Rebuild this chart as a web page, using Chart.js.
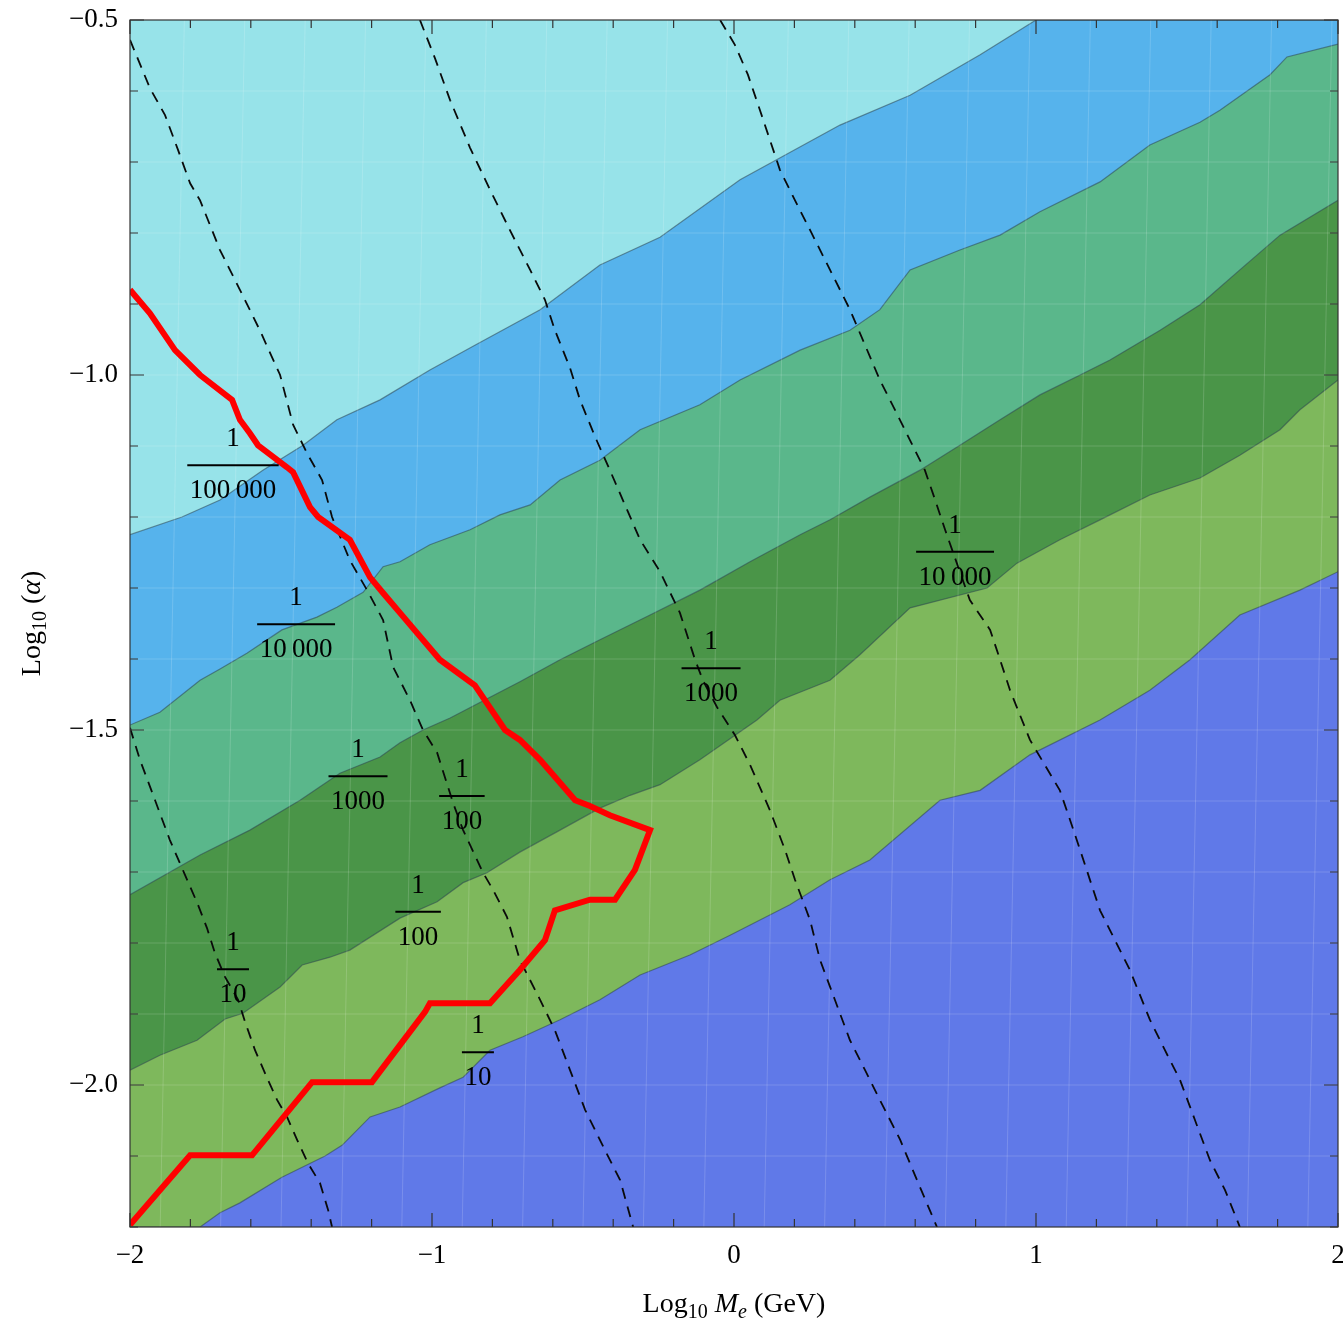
<!DOCTYPE html>
<html>
<head>
<meta charset="utf-8">
<script src="https://cdn.jsdelivr.net/npm/chart.js@4.4.0/dist/chart.umd.min.js"></script>
<style>
  html, body { margin: 0; padding: 0; background: #fff; }
  #wrap { width: 1343px; height: 1326px; position: relative; }
</style>
</head>
<body>
<div id="wrap"><canvas id="plot"></canvas></div>
<script>
// axis ranges (log10 Me, log10 alpha)
var xRange = [-2, 2];
var yRange = [-2.2, -0.5];

// band boundaries, lowest order = top band
var edge1 = [[-2.000,-1.225],[-1.828,-1.200],[-1.702,-1.176],[-1.560,-1.134],[-1.427,-1.099],[-1.315,-1.063],[-1.172,-1.035],[-1.007,-0.993],[-0.858,-0.958],[-0.642,-0.908],[-0.444,-0.845],[-0.245,-0.806],[0.020,-0.725],[0.351,-0.648],[0.583,-0.606],[0.815,-0.549],[1.000,-0.500],[2.000,-0.500]];
var edge2 = [[-2.000,-1.493],[-1.901,-1.475],[-1.768,-1.430],[-1.702,-1.414],[-1.613,-1.392],[-1.497,-1.359],[-1.381,-1.341],[-1.315,-1.327],[-1.228,-1.306],[-1.162,-1.270],[-1.106,-1.263],[-1.007,-1.239],[-0.874,-1.218],[-0.775,-1.197],[-0.675,-1.183],[-0.576,-1.148],[-0.444,-1.120],[-0.311,-1.077],[-0.113,-1.042],[0.020,-1.007],[0.219,-0.965],[0.384,-0.937],[0.483,-0.908],[0.583,-0.852],[0.748,-0.824],[0.881,-0.803],[1.013,-0.770],[1.212,-0.728],[1.377,-0.676],[1.543,-0.644],[1.609,-0.627],[1.775,-0.577],[1.831,-0.552],[2.000,-0.534]];
var edge3 = [[-2.000,-1.732],[-1.768,-1.676],[-1.603,-1.641],[-1.437,-1.599],[-1.371,-1.580],[-1.305,-1.561],[-1.172,-1.538],[-1.106,-1.518],[-1.030,-1.500],[-0.940,-1.483],[-0.808,-1.454],[-0.709,-1.432],[-0.576,-1.401],[-0.444,-1.373],[-0.278,-1.338],[-0.113,-1.303],[0.053,-1.263],[0.219,-1.225],[0.318,-1.204],[0.450,-1.172],[0.616,-1.134],[0.748,-1.099],[0.881,-1.063],[1.013,-1.028],[1.146,-1.000],[1.245,-0.979],[1.411,-0.937],[1.543,-0.901],[1.675,-0.852],[1.808,-0.803],[2.000,-0.754]];
var edge4 = [[-2.000,-1.979],[-1.901,-1.958],[-1.778,-1.937],[-1.685,-1.907],[-1.626,-1.899],[-1.503,-1.862],[-1.430,-1.831],[-1.338,-1.820],[-1.272,-1.810],[-1.106,-1.765],[-0.983,-1.742],[-0.897,-1.715],[-0.818,-1.701],[-0.709,-1.672],[-0.576,-1.641],[-0.444,-1.610],[-0.344,-1.592],[-0.245,-1.577],[-0.113,-1.542],[0.076,-1.486],[0.152,-1.458],[0.318,-1.430],[0.417,-1.394],[0.583,-1.328],[0.838,-1.300],[0.937,-1.265],[1.079,-1.232],[1.212,-1.204],[1.377,-1.169],[1.543,-1.145],[1.675,-1.113],[1.808,-1.077],[1.874,-1.049],[2.000,-1.007]];
var edge5 = [[-2.000,-2.200],[-1.768,-2.200],[-1.702,-2.180],[-1.636,-2.166],[-1.497,-2.130],[-1.354,-2.100],[-1.298,-2.085],[-1.205,-2.045],[-1.106,-2.031],[-0.974,-2.004],[-0.897,-1.989],[-0.808,-1.951],[-0.699,-1.932],[-0.576,-1.908],[-0.444,-1.880],[-0.311,-1.845],[-0.146,-1.817],[-0.013,-1.789],[0.185,-1.746],[0.318,-1.711],[0.450,-1.683],[0.682,-1.599],[0.815,-1.585],[0.980,-1.535],[1.212,-1.486],[1.377,-1.444],[1.510,-1.401],[1.675,-1.338],[1.874,-1.303],[2.000,-1.277]];
var floor = [[-2.000,-2.200],[2.000,-2.200]];

var bandColors = ['#97e3e9', '#56b3ec', '#5ab78b', '#4a9548', '#7eb85c', '#6079e8'];

// faint plotting mesh: near-vertical lines (bottom x, top x) and horizontal lines
var meshBottomX = [-1.9,-1.7,-1.5,-1.3,-1.1,-0.9,-0.7,-0.5,-0.3,-0.1,0.1,0.3,0.5,0.7,0.9,1.1,1.3,1.5,1.7,1.9];
var meshTopX = [-1.82,-1.62,-1.42,-1.22,-1.02,-0.82,-0.62,-0.42,-0.22,-0.02,0.18,0.38,0.58,0.78,0.98,1.18,1.38,1.58,1.78,1.98];
var meshY = [-2.1,-2.0,-1.9,-1.8,-1.7,-1.6,-1.5,-1.4,-1.3,-1.2,-1.1,-1.0,-0.9,-0.8,-0.7,-0.6];

// dashed contours
var dash1 = [[-2.000,-1.497],[-1.967,-1.542],[-1.917,-1.599],[-1.868,-1.655],[-1.818,-1.704],[-1.775,-1.746],[-1.745,-1.779],[-1.719,-1.814],[-1.685,-1.848],[-1.642,-1.880],[-1.619,-1.911],[-1.586,-1.951],[-1.546,-1.990],[-1.513,-2.021],[-1.480,-2.045],[-1.447,-2.077],[-1.411,-2.110],[-1.371,-2.138],[-1.344,-2.176],[-1.331,-2.200]];
var dash2 = [[-2.000,-0.528],[-1.934,-0.596],[-1.884,-0.634],[-1.841,-0.683],[-1.801,-0.730],[-1.768,-0.754],[-1.702,-0.824],[-1.636,-0.880],[-1.570,-0.937],[-1.503,-1.000],[-1.460,-1.070],[-1.414,-1.110],[-1.364,-1.148],[-1.331,-1.200],[-1.272,-1.261],[-1.215,-1.303],[-1.162,-1.345],[-1.129,-1.411],[-1.073,-1.458],[-1.030,-1.500],[-0.983,-1.532],[-0.930,-1.603],[-0.897,-1.641],[-0.831,-1.701],[-0.798,-1.725],[-0.752,-1.763],[-0.709,-1.824],[-0.642,-1.880],[-0.593,-1.923],[-0.543,-1.979],[-0.493,-2.035],[-0.427,-2.092],[-0.377,-2.134],[-0.334,-2.200]];
var dash3 = [[-1.040,-0.500],[-0.990,-0.554],[-0.940,-0.613],[-0.874,-0.680],[-0.808,-0.739],[-0.742,-0.796],[-0.675,-0.852],[-0.626,-0.894],[-0.593,-0.937],[-0.543,-0.990],[-0.510,-1.035],[-0.460,-1.087],[-0.411,-1.134],[-0.361,-1.183],[-0.311,-1.232],[-0.245,-1.277],[-0.179,-1.335],[-0.129,-1.401],[-0.103,-1.430],[-0.056,-1.468],[0.003,-1.507],[0.053,-1.549],[0.119,-1.613],[0.169,-1.669],[0.202,-1.711],[0.252,-1.768],[0.285,-1.824],[0.334,-1.880],[0.384,-1.937],[0.434,-1.979],[0.483,-2.021],[0.550,-2.077],[0.606,-2.134],[0.672,-2.200]];
var dash4 = [[-0.046,-0.500],[0.003,-0.535],[0.046,-0.577],[0.086,-0.627],[0.152,-0.711],[0.202,-0.754],[0.252,-0.796],[0.318,-0.852],[0.384,-0.908],[0.434,-0.958],[0.483,-1.007],[0.533,-1.049],[0.583,-1.092],[0.632,-1.134],[0.666,-1.176],[0.699,-1.218],[0.742,-1.270],[0.781,-1.317],[0.848,-1.359],[0.881,-1.401],[0.914,-1.444],[0.980,-1.514],[1.079,-1.585],[1.113,-1.627],[1.146,-1.669],[1.212,-1.754],[1.311,-1.838],[1.377,-1.908],[1.427,-1.951],[1.477,-1.993],[1.526,-2.049],[1.576,-2.106],[1.626,-2.148],[1.675,-2.200]];

// red exclusion curve
var redCurve = [[-2.000,-0.880],[-1.934,-0.913],[-1.851,-0.965],[-1.768,-1.000],[-1.662,-1.035],[-1.636,-1.063],[-1.603,-1.082],[-1.576,-1.099],[-1.480,-1.130],[-1.460,-1.137],[-1.404,-1.186],[-1.377,-1.200],[-1.272,-1.232],[-1.205,-1.285],[-1.162,-1.307],[-1.106,-1.335],[-0.974,-1.401],[-0.858,-1.437],[-0.758,-1.500],[-0.709,-1.514],[-0.642,-1.542],[-0.526,-1.599],[-0.477,-1.607],[-0.411,-1.620],[-0.278,-1.641],[-0.328,-1.697],[-0.394,-1.739],[-0.477,-1.739],[-0.593,-1.754],[-0.626,-1.796],[-0.709,-1.838],[-0.808,-1.885],[-1.007,-1.885],[-1.023,-1.897],[-1.199,-1.996],[-1.397,-1.996],[-1.596,-2.099],[-1.801,-2.099],[-2.000,-2.197]];

// contour labels: position of the fraction bar and denominator
var bandLabelPos = [[-1.659,-1.127],[-1.450,-1.351],[-1.245,-1.565],[-1.046,-1.756],[-0.848,-1.954]];
var bandLabelDen = ['100\u2009000', '10\u2009000', '1000', '100', '10'];
var dashLabelPos = [[-1.659,-1.837],[-0.901,-1.593],[-0.076,-1.413],[0.732,-1.249]];
var dashLabelDen = ['10', '100', '1000', '10\u2009000'];

var serif = '"Liberation Serif", "DejaVu Serif", serif';

function minus(s) { return s.charAt(0) === '-' ? '\u2212' + s.slice(1) : s; }

function band(data, color, order) {
  return {
    data: data, fill: 'end', backgroundColor: color,
    borderColor: 'rgba(45,70,80,0.55)', borderWidth: 1.2,
    pointRadius: 0, order: order
  };
}
function dashed(data) {
  return {
    data: data, fill: false, borderColor: '#0a0a0a', borderWidth: 1.8,
    borderDash: [11, 8], pointRadius: 0, order: 2
  };
}
function meshLine(data) {
  return {
    data: data, fill: false, borderColor: 'rgba(255,255,255,0.16)', borderWidth: 1,
    pointRadius: 0, order: 5
  };
}

var datasets = [
  { data: floor, fill: 'end', backgroundColor: bandColors[5], borderWidth: 0, pointRadius: 0, order: 20 },
  band(edge5, bandColors[4], 15),
  band(edge4, bandColors[3], 14),
  band(edge3, bandColors[2], 13),
  band(edge2, bandColors[1], 12),
  band(edge1, bandColors[0], 11)
];
meshBottomX.forEach(function(x, i) {
  datasets.push(meshLine([[x, yRange[0]], [meshTopX[i], yRange[1]]]));
});
meshY.forEach(function(y) {
  datasets.push(meshLine([[xRange[0], y], [xRange[1], y]]));
});
datasets.push(dashed(dash1), dashed(dash2), dashed(dash3), dashed(dash4));
datasets.push({ data: redCurve, fill: false, borderColor: '#ff0000', borderWidth: 6, pointRadius: 0, order: 1 });

// frame with inward ticks on all four sides
var framePlugin = {
  id: 'frame',
  afterDatasetsDraw: function(chart) {
    var c = chart.ctx, a = chart.chartArea;
    var xs = chart.scales.x, ys = chart.scales.y;
    c.save();
    c.strokeStyle = '#333';
    c.lineWidth = 1.2;
    c.strokeRect(a.left, a.top, a.right - a.left, a.bottom - a.top);
    c.beginPath();
    xs.ticks.forEach(function(t) {
      var px = xs.getPixelForValue(t.value);
      var len = t.label ? 14 : 8;
      c.moveTo(px, a.bottom); c.lineTo(px, a.bottom - len);
      c.moveTo(px, a.top); c.lineTo(px, a.top + len);
    });
    ys.ticks.forEach(function(t) {
      var py = ys.getPixelForValue(t.value);
      var len = t.label ? 14 : 8;
      c.moveTo(a.left, py); c.lineTo(a.left + len, py);
      c.moveTo(a.right, py); c.lineTo(a.right - len, py);
    });
    c.stroke();
    c.restore();
  }
};

function drawFraction(c, px, py, den) {
  c.font = '27px ' + serif;
  c.fillStyle = '#000';
  c.textAlign = 'center';
  c.textBaseline = 'alphabetic';
  var w = c.measureText(den).width + 5;
  c.fillText('1', px, py - 19);
  c.fillText(den, px, py + 33);
  c.beginPath();
  c.lineWidth = 2;
  c.strokeStyle = '#000';
  c.moveTo(px - w / 2, py); c.lineTo(px + w / 2, py);
  c.stroke();
}

var labelPlugin = {
  id: 'contourLabels',
  afterDatasetsDraw: function(chart) {
    var c = chart.ctx, xs = chart.scales.x, ys = chart.scales.y;
    c.save();
    bandLabelPos.forEach(function(p, i) {
      drawFraction(c, xs.getPixelForValue(p[0]), ys.getPixelForValue(p[1]), bandLabelDen[i]);
    });
    dashLabelPos.forEach(function(p, i) {
      drawFraction(c, xs.getPixelForValue(p[0]), ys.getPixelForValue(p[1]), dashLabelDen[i]);
    });
    c.restore();
  }
};

// run of text pieces: [text, size, italic, baseline shift]
function drawRun(c, parts, x, y) {
  var total = 0;
  parts.forEach(function(p) {
    c.font = (p[2] ? 'italic ' : '') + p[1] + 'px ' + serif;
    total += c.measureText(p[0]).width;
  });
  var cx = x - total / 2;
  parts.forEach(function(p) {
    c.font = (p[2] ? 'italic ' : '') + p[1] + 'px ' + serif;
    c.fillText(p[0], cx, y + p[3]);
    cx += c.measureText(p[0]).width;
  });
}

var titlePlugin = {
  id: 'axisTitles',
  afterDraw: function(chart) {
    var c = chart.ctx, a = chart.chartArea;
    c.save();
    c.fillStyle = '#000';
    c.textAlign = 'left';
    c.textBaseline = 'alphabetic';
    drawRun(c, [['Log', 28, false, 0], ['10', 20, false, 6], [' ', 28, false, 0], ['M', 28, true, 0],
      ['e', 20, true, 6], [' (GeV)', 28, false, 0]], (a.left + a.right) / 2, 1312);
    c.translate(40, (a.top + a.bottom) / 2);
    c.rotate(-Math.PI / 2);
    drawRun(c, [['Log', 28, false, 0], ['10', 20, false, 6], [' (', 28, false, 0], ['\u03b1', 28, true, 0],
      [')', 28, false, 0]], 0, 0);
    c.restore();
  }
};

new Chart(document.getElementById('plot').getContext('2d'), {
  type: 'line',
  data: { datasets: datasets },
  options: {
    responsive: true,
    maintainAspectRatio: false,
    animation: false,
    layout: { padding: { top: 20, right: 5, left: 0, bottom: 0 } },
    plugins: { legend: { display: false }, tooltip: { enabled: false } },
    elements: { line: { tension: 0 } },
    scales: {
      x: {
        type: 'linear', min: xRange[0], max: xRange[1],
        grid: { display: false, drawTicks: false }, border: { display: false },
        afterFit: function(s) { s.height = 99; s.paddingLeft = 0; s.paddingRight = 0; },
        ticks: {
          stepSize: 0.2, autoSkip: false, maxRotation: 0, padding: 13,
          color: '#000', font: { family: serif, size: 27 },
          callback: function(v) {
            return Math.abs(v - Math.round(v)) < 1e-6 ? minus(String(Math.round(v))) : '';
          }
        }
      },
      y: {
        type: 'linear', min: yRange[0], max: yRange[1],
        grid: { display: false, drawTicks: false }, border: { display: false },
        afterFit: function(s) { s.width = 130; s.paddingTop = 0; s.paddingBottom = 0; },
        ticks: {
          stepSize: 0.1, autoSkip: false, padding: 12,
          color: '#000', font: { family: serif, size: 27 },
          callback: function(v) {
            return Math.abs(v * 2 - Math.round(v * 2)) < 1e-6 ? minus(v.toFixed(1)) : '';
          }
        }
      }
    }
  },
  plugins: [framePlugin, labelPlugin, titlePlugin]
});
</script>
</body>
</html>
